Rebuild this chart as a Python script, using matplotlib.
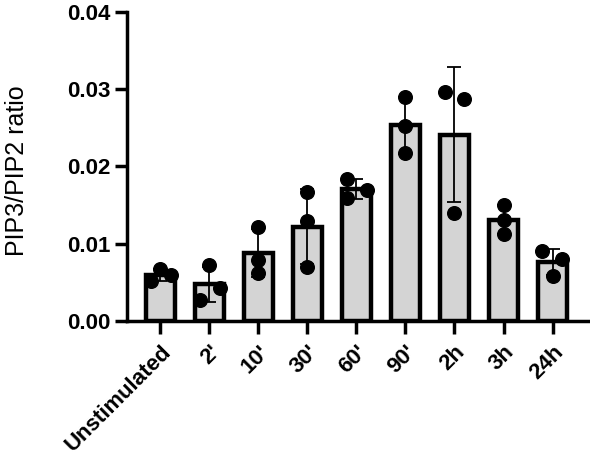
import matplotlib
matplotlib.use('agg')
import matplotlib.pyplot as plt
import numpy as np

plt.rcParams['font.family'] = ['Liberation Sans', 'DejaVu Sans']

# conditions and replicate values
labels = ["Unstimulated", "2'", "10'", "30'", "60'", "90'", "2h", "3h", "24h"]
reps = [
    [0.0052, 0.0067, 0.0060],
    [0.0027, 0.0072, 0.0043],
    [0.0122, 0.0079, 0.0062],
    [0.0167, 0.0129, 0.0070],
    [0.0184, 0.0159, 0.0169],
    [0.0290, 0.0252, 0.0217],
    [0.0296, 0.0140, 0.0287],
    [0.0150, 0.0113, 0.0130],
    [0.0091, 0.0058, 0.0080],
]
# horizontal scatter of each replicate, in bar units
jitter = [
    [-0.2, 0.0, 0.22],
    [-0.2, 0.0, 0.22],
    [0.0, 0.0, 0.0],
    [0.0, 0.0, 0.0],
    [-0.2, -0.2, 0.22],
    [0.0, 0.0, 0.0],
    [-0.2, 0.0, 0.2],
    [0.0, 0.0, 0.0],
    [-0.22, 0.0, 0.2],
]

means = [np.mean(r) for r in reps]
sds = [np.std(r, ddof=1) for r in reps]
x = np.arange(len(labels))

fig = plt.figure(figsize=(5.9, 4.59), dpi=100)
ax = fig.add_axes([0.2153, 0.301, 0.781, 0.673])

ax.bar(x, means, width=0.6, color='#d4d4d4', edgecolor='black', linewidth=3.2, zorder=1)
ax.errorbar(x, means, yerr=sds, fmt='none', ecolor='black', elinewidth=1.3,
            capsize=5, capthick=1.3, zorder=2)
for i in range(len(labels)):
    ax.plot(x[i] + np.array(jitter[i]), reps[i], 'o', color='black', markersize=9.8, zorder=3)

ax.set_xlim(-0.68, 8.72)
ax.set_ylim(0, 0.04)
ax.set_yticks([0, 0.01, 0.02, 0.03, 0.04])
ax.set_yticklabels(['0.00', '0.01', '0.02', '0.03', '0.04'], fontweight='bold')
ax.set_xticks(x)
ax.set_xticklabels(labels, rotation=45, ha='right', rotation_mode='anchor', fontweight='bold')
ax.set_ylabel('PIP3/PIP2 ratio', fontsize=18)
ax.yaxis.set_label_coords(-0.212, 0.485)

for s in ['top', 'right']:
    ax.spines[s].set_visible(False)
for s in ['left', 'bottom']:
    ax.spines[s].set_linewidth(2.5)
ax.tick_params(axis='both', width=2.5, length=9, labelsize=16)
ax.tick_params(axis='x', pad=6)
ax.tick_params(axis='y', pad=3)

fig.savefig('out.png', dpi=100)
